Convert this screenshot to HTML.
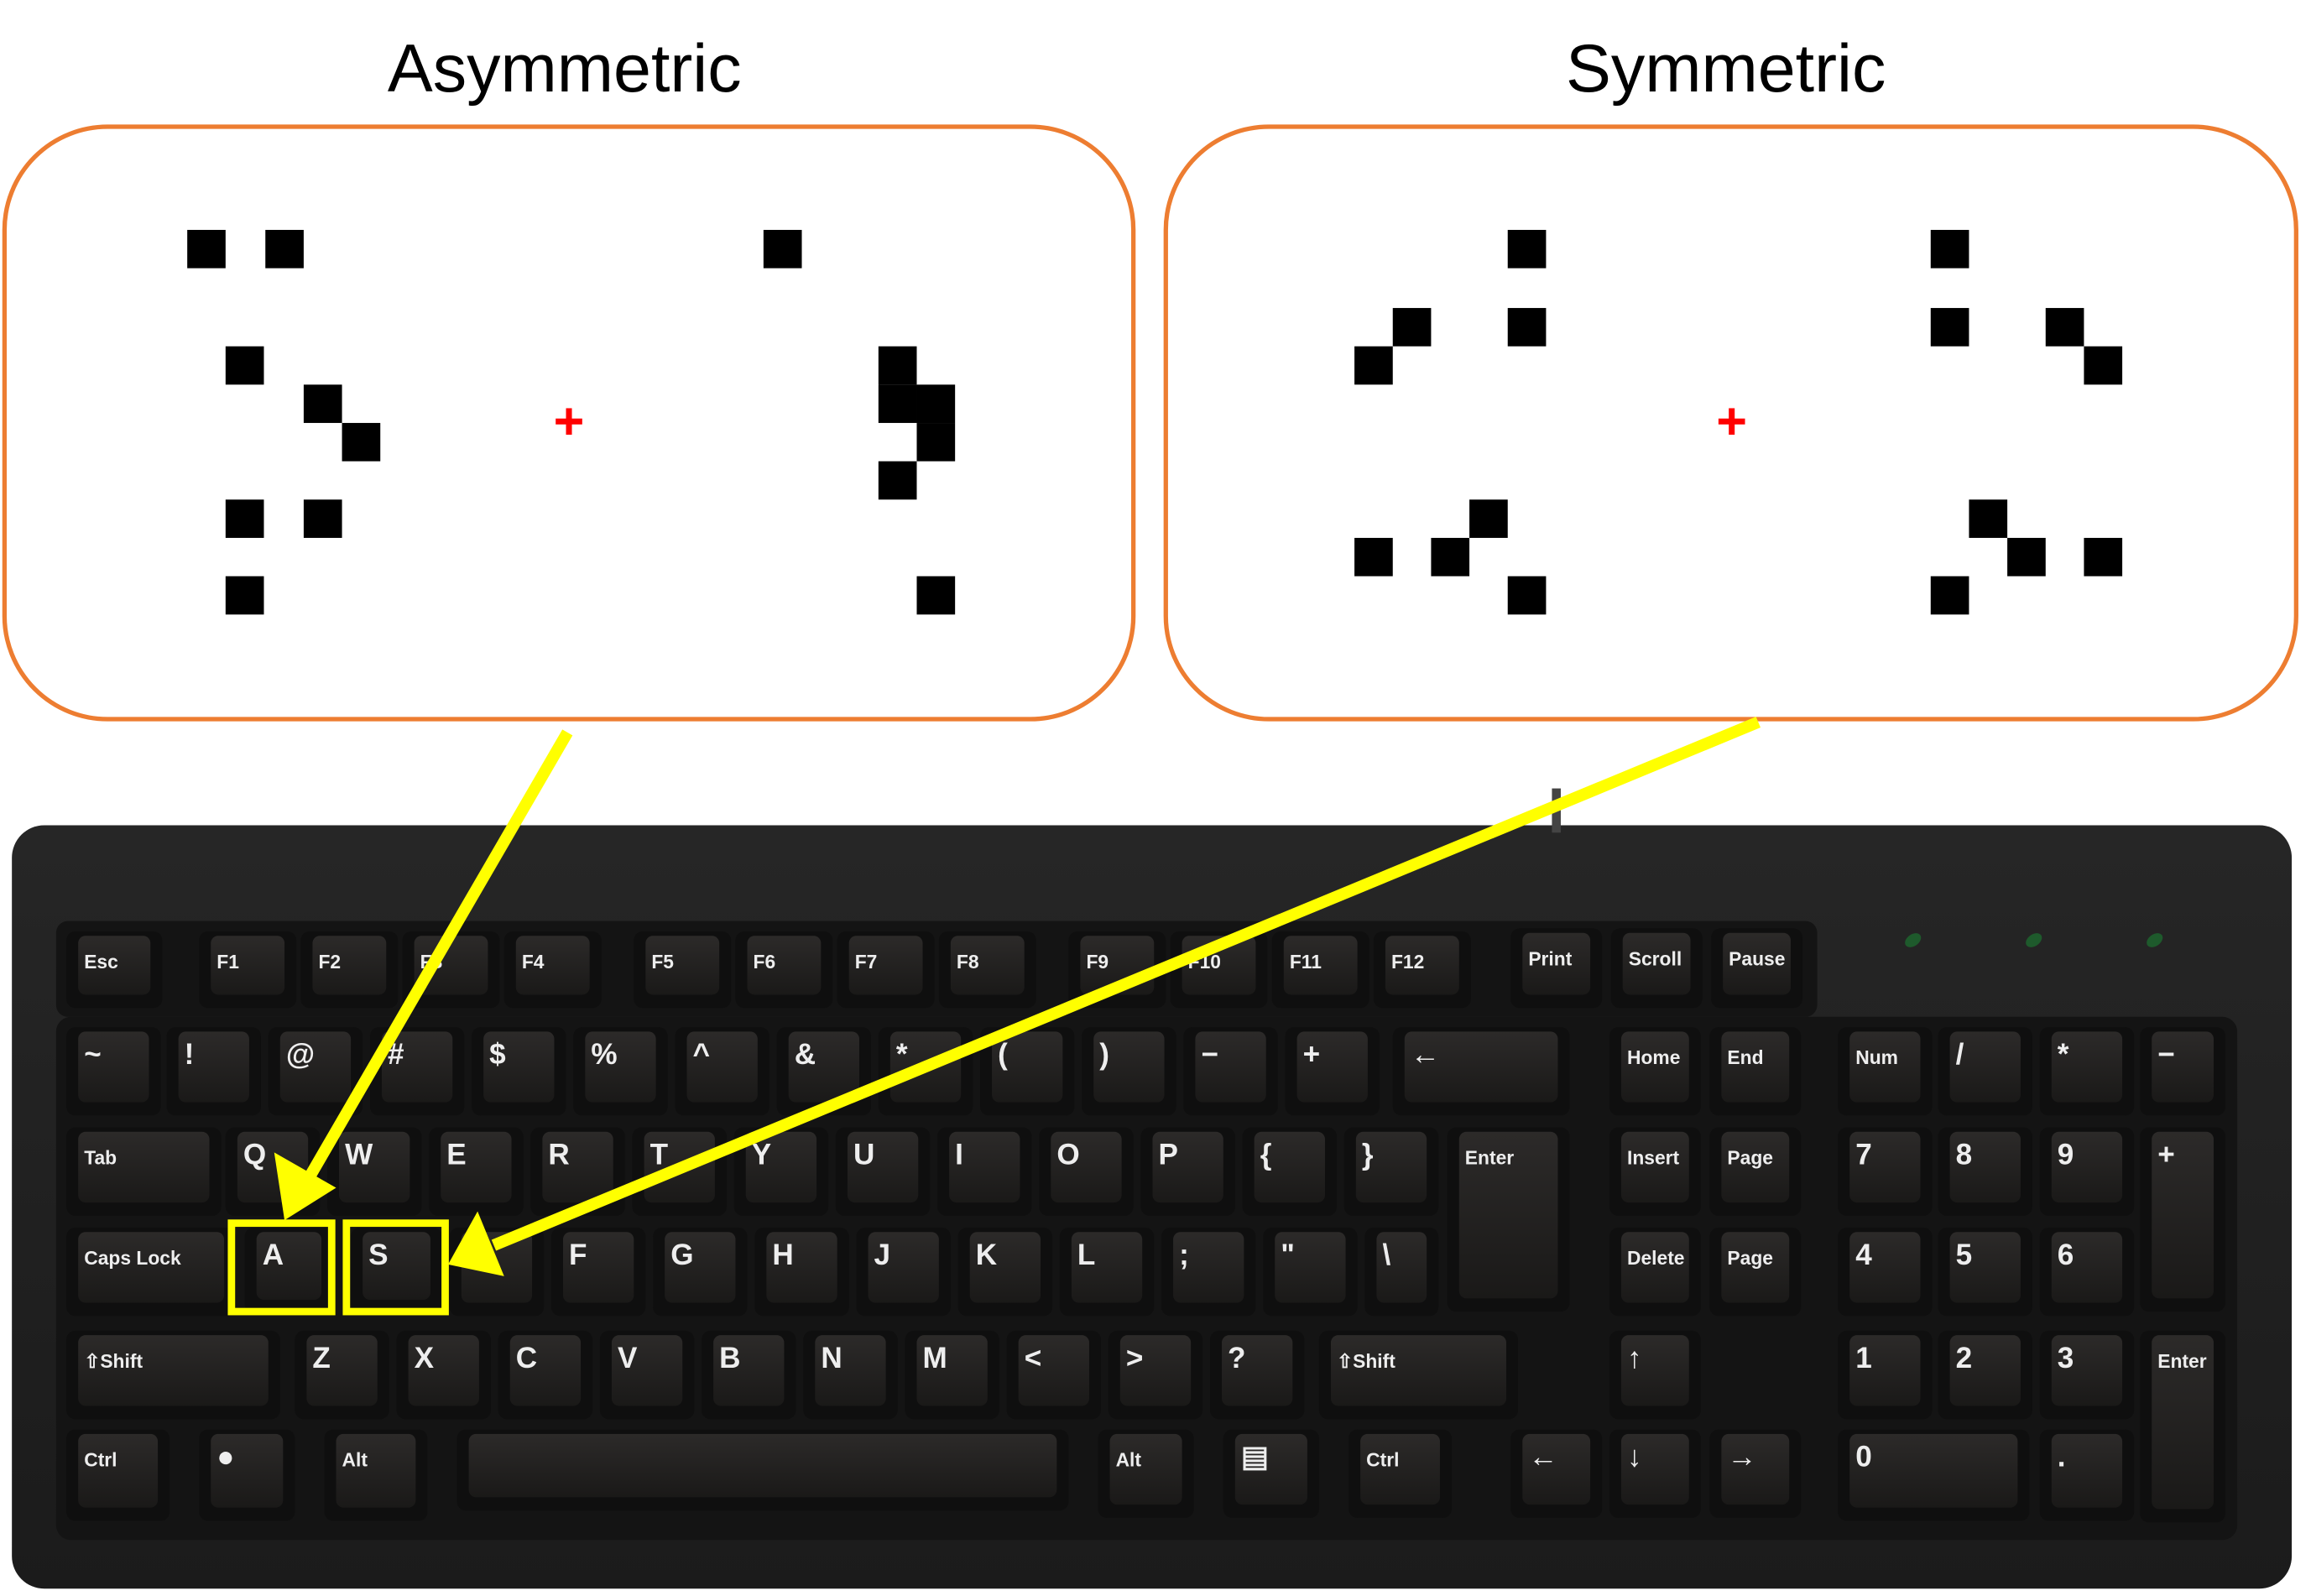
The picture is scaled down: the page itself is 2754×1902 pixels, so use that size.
<!DOCTYPE html>
<html><head><meta charset="utf-8"><style>
html,body{margin:0;padding:0;background:#fff;}
svg{display:block;}
text{font-family:"Liberation Sans",sans-serif;}
</style></head><body>
<svg id="root" width="2754" height="1902" viewBox="0 0 1568 1083" xmlns="http://www.w3.org/2000/svg">
<defs>
<linearGradient id="kg" x1="0" y1="0" x2="0" y2="1"><stop offset="0" stop-color="#2c2a29"/><stop offset="1" stop-color="#1a1918"/></linearGradient>
<linearGradient id="bg" x1="0" y1="0" x2="0" y2="1"><stop offset="0" stop-color="#262626"/><stop offset="1" stop-color="#1b1b1b"/></linearGradient>
</defs>
<text x="383" y="62" font-size="46" text-anchor="middle" fill="#000">Asymmetric</text>
<text x="1171" y="62" font-size="46" text-anchor="middle" fill="#000">Symmetric</text>
<rect x="3" y="86" width="766" height="402" rx="70" fill="#fff" stroke="#ED7D31" stroke-width="3"/>
<rect x="791" y="86" width="767" height="402" rx="70" fill="#fff" stroke="#ED7D31" stroke-width="3"/>
<g id="squares"></g>
<g><rect x="377" y="284" width="18" height="4" fill="#f00"/><rect x="384" y="277" width="4" height="18" fill="#f00"/></g>
<g><rect x="1166" y="284" width="18" height="4" fill="#f00"/><rect x="1173" y="277" width="4" height="18" fill="#f00"/></g>
<rect x="8" y="560" width="1547" height="518" rx="22" fill="url(#bg)"/>
<rect x="1053" y="535" width="6" height="30" fill="#444"/>
<rect x="38" y="690" width="1480" height="355" rx="10" fill="#141414"/>
<rect x="38" y="625" width="1195" height="65" rx="8" fill="#141414"/>
<g id="keys"></g>
<g>
<ellipse cx="1298" cy="638" rx="6" ry="4" fill="#1e5a2c" transform="rotate(-35 1298 638)"/>
<ellipse cx="1380" cy="638" rx="6" ry="4" fill="#1e5a2c" transform="rotate(-35 1380 638)"/>
<ellipse cx="1462" cy="638" rx="6" ry="4" fill="#1e5a2c" transform="rotate(-35 1462 638)"/>
</g>
<rect x="157" y="830" width="68" height="60" fill="none" stroke="#FFFF00" stroke-width="5"/>
<rect x="235" y="830" width="67" height="60" fill="none" stroke="#FFFF00" stroke-width="5"/>
<g>
<line x1="385" y1="497" x2="208" y2="802" stroke="#FFFF00" stroke-width="8"/>
<polygon points="193,828 186,782 228,806" fill="#FFFF00"/>
</g>
<g>
<line x1="1193" y1="490" x2="335" y2="845" stroke="#FFFF00" stroke-width="8"/>
<polygon points="304,858 324,822 342,866" fill="#FFFF00"/>
</g>
</svg>
<script>
const asymSquares=[[127,156],[180,156],[518,156],[153,235],[206,261],[232,287],[153,339],[206,339],[153,391],[596,235],[596,261],[622,261],[622,287],[596,313],[622,391]];
const symSquares=[[1023,156],[945,209],[1023,209],[919,235],[997,339],[919,365],[971,365],[1023,391],[1310,156],[1310,209],[1388,209],[1414,235],[1336,339],[1362,365],[1414,365],[1310,391]];
// keys: [x,y,w,h,label]
const keyList=[
[45,632,65,52,"Esc"],[135,632,66,52,"F1"],[204,632,66,52,"F2"],[273,632,66,52,"F3"],[342,632,66,52,"F4"],
[430,632,66,52,"F5"],[499,632,66,52,"F6"],[568,632,66,52,"F7"],[637,632,66,52,"F8"],
[725,632,66,52,"F9"],[794,632,66,52,"F10"],[863,632,66,52,"F11"],[932,632,66,52,"F12"],
[1025,630,62,54,"Print"],[1093,630,62,54,"Scroll"],[1161,630,62,54,"Pause"],
[45,697,64,60,"~"],[113,697,64,60,"!"],[182,697,64,60,"@"],[251,697,64,60,"#"],[320,697,64,60,"$"],[389,697,64,60,"%"],[458,697,64,60,"^"],[527,697,64,60,"&"],[596,697,64,60,"*"],[665,697,64,60,"("],[734,697,64,60,")"],[803,697,64,60,"−"],[872,697,64,60,"+"],[945,697,120,60,"←"],
[1092,697,62,60,"Home"],[1160,697,62,60,"End"],[1247,697,64,60,"Num"],[1315,697,64,60,"/"],[1384,697,64,60,"*"],[1452,697,58,60,"−"],
[45,765,105,60,"Tab"],[153,765,64,60,"Q"],[222,765,64,60,"W"],[291,765,64,60,"E"],[360,765,64,60,"R"],[429,765,64,60,"T"],[498,765,64,60,"Y"],[567,765,64,60,"U"],[636,765,64,60,"I"],[705,765,64,60,"O"],[774,765,64,60,"P"],[843,765,64,60,"{"],[912,765,64,60,"}"],[982,765,83,125,"Enter"],
[1092,765,62,60,"Insert"],[1160,765,62,60,"Page"],[1247,765,64,60,"7"],[1315,765,64,60,"8"],[1384,765,64,60,"9"],[1452,765,58,125,"+"],
[45,833,115,60,"Caps Lock"],[166,833,60,58,"A"],[238,833,62,58,"S"],[305,833,64,60,""],[374,833,64,60,"F"],[443,833,64,60,"G"],[512,833,64,60,"H"],[581,833,64,60,"J"],[650,833,64,60,"K"],[719,833,64,60,"L"],[788,833,64,60,";"],[857,833,64,60,"\""],[926,833,50,60,"\\"],
[1092,833,62,60,"Delete"],[1160,833,62,60,"Page"],[1247,833,64,60,"4"],[1315,833,64,60,"5"],[1384,833,64,60,"6"],
[45,903,145,60,"⇧Shift"],[200,903,64,60,"Z"],[269,903,64,60,"X"],[338,903,64,60,"C"],[407,903,64,60,"V"],[476,903,64,60,"B"],[545,903,64,60,"N"],[614,903,64,60,"M"],[683,903,64,60,"<"],[752,903,64,60,">"],[821,903,64,60,"?"],[895,903,135,60,"⇧Shift"],
[1092,903,62,60,"↑"],[1247,903,64,60,"1"],[1315,903,64,60,"2"],[1384,903,64,60,"3"],[1452,903,58,130,"Enter"],
[45,970,70,62,"Ctrl"],[135,970,65,62,"●"],[220,970,70,62,"Alt"],[310,970,415,55,""],[745,970,65,60,"Alt"],[830,970,65,60,"▤"],[915,970,70,60,"Ctrl"],
[1025,970,62,60,"←"],[1092,970,62,60,"↓"],[1160,970,62,60,"→"],[1247,970,130,62,"0"],[1384,970,64,62,"."]
];
const NS="http://www.w3.org/2000/svg";
const sq=document.getElementById('squares');
function addSq(p,name){
  const r=document.createElementNS(NS,'rect');
  r.setAttribute('x',p[0]);r.setAttribute('y',p[1]);r.setAttribute('width',26);r.setAttribute('height',26);r.setAttribute('fill','#000');
  
  
  sq.appendChild(r);
}
asymSquares.forEach(p=>addSq(p,'asymmetric-square'));
symSquares.forEach(p=>addSq(p,'symmetric-square'));
const kg=document.getElementById('keys');
keyList.forEach(k=>{
  const g=document.createElementNS(NS,'g');
  
  
  const b=document.createElementNS(NS,'rect');
  b.setAttribute('x',k[0]);b.setAttribute('y',k[1]);b.setAttribute('width',k[2]);b.setAttribute('height',k[3]);b.setAttribute('rx',6);b.setAttribute('fill','#0f0f0f');
  g.appendChild(b);
  const t=document.createElementNS(NS,'rect');
  t.setAttribute('x',k[0]+8);t.setAttribute('y',k[1]+3);t.setAttribute('width',k[2]-16);t.setAttribute('height',k[3]-12);t.setAttribute('rx',5);t.setAttribute('fill','url(#kg)');
  g.appendChild(t);
  if(k[4]){
    const tx=document.createElementNS(NS,'text');
    tx.setAttribute('x',k[0]+12);tx.setAttribute('y',k[1]+25);
    const big=k[4].length===1;
    tx.setAttribute('font-size',big?20:13);tx.setAttribute('font-weight','bold');tx.setAttribute('fill','#eee');
    tx.textContent=k[4];
    g.appendChild(tx);
  }
  kg.appendChild(g);
});
</script>
</body></html>
